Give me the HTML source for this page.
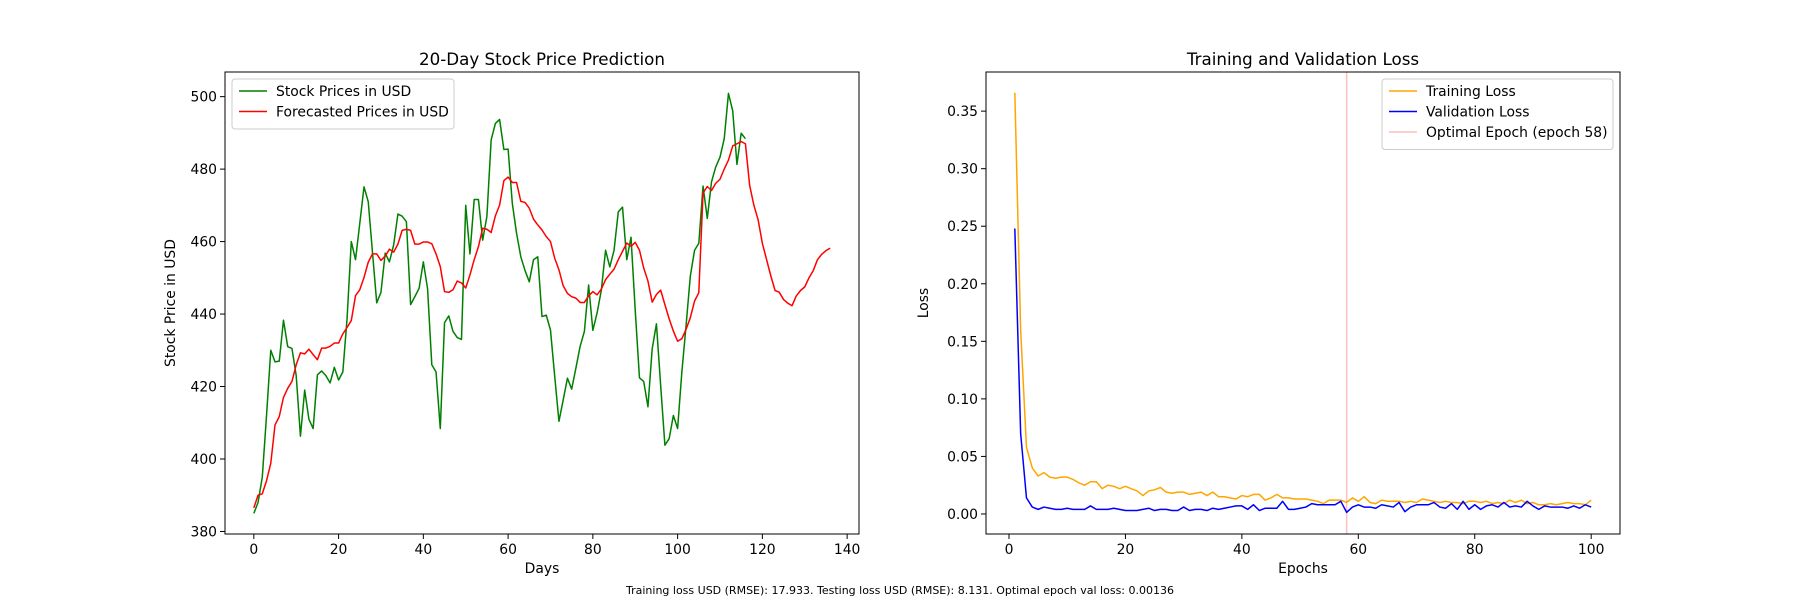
<!DOCTYPE html>
<html><head><meta charset="utf-8"><style>
body{margin:0;background:#fff;}
svg{display:block;font-family:"DejaVu Sans","Liberation Sans",sans-serif;}
</style></head><body>
<svg id="fig" width="1800" height="600" xmlns="http://www.w3.org/2000/svg"></svg>
<script>
const days=[];for(let i=0;i<=136;i++)days.push(i);
const stockPrices=[385,388,395,412,430,426.8,427,438.3,431,430.5,423,406.3,419,411,408.4,423.2,424.3,423,421,425.3,421.8,424,438.7,460,455,465,475.1,471,457,443.1,446,456.8,454.4,459.1,467.6,467,465.5,442.6,444.8,447.1,454.4,447,426,424,408.4,437.6,439.5,435.2,433.5,433,470,456.6,471.6,471.6,460.4,467,488,492.6,493.7,485.4,485.5,470.5,462.3,455.8,452,448.9,455,455.8,439.3,439.7,435.6,422.8,410.4,416.3,422.3,419.3,425.1,431.1,435.2,448,435.5,440.3,446.6,457.6,453,457.6,468.2,469.5,455,461.2,441,422.4,421.4,414.4,430.4,437.3,420.3,403.8,405.6,412,408.4,424,436.9,450.5,457.6,459.5,475.3,466.4,476.5,480.6,483.3,488.4,500.9,496.1,481.3,489.9,488.4];
const forecastPrices=[386.5,390,390.4,394,398.8,409.4,411.7,417,419.5,421.4,426,429.3,429,430.3,428.8,427.4,430.6,430.6,431.1,432,432,434.5,436.3,438.2,445.1,446.7,450.1,454.3,456.6,456.6,454.8,456,457.9,457.1,459.3,463.1,463.4,463.1,459.3,459.3,459.9,459.9,459.4,456.6,453.1,446.2,446,446.7,449.1,448.6,447.2,450.8,455,458.6,463.7,463.4,462.5,467.1,470.1,476.8,477.8,476.3,476.3,471.1,470.8,469.2,466.2,464.6,463.2,461.4,460,455.4,452.2,447.8,445.7,444.8,444.4,443.2,443.2,445,446.2,445.3,446.9,449.5,451,452.4,455,457.3,459.6,458.7,459.8,457.6,452.7,449.1,443.3,445.4,446.6,442.6,438.7,435.3,432.5,433.2,435.8,439,443.6,445.9,473.4,475.2,474.1,476.1,477.2,480,482.5,486.4,487,487.6,487,475.5,470,466,459.5,455,450.5,446.5,446,444,443,442.3,445,446.5,447.5,450,452,455,456.5,457.5,458.2];
const leftXTicks=[0,20,40,60,80,100,120,140];
const leftYTicks=[380,400,420,440,460,480,500];
const epochs=[];for(let i=1;i<=100;i++)epochs.push(i);
const trainLoss=[0.366,0.16,0.058,0.04,0.033,0.036,0.032,0.031,0.032,0.032,0.030,0.027,0.025,0.028,0.028,0.022,0.025,0.024,0.022,0.024,0.022,0.020,0.016,0.020,0.021,0.023,0.019,0.018,0.019,0.019,0.017,0.018,0.019,0.016,0.019,0.015,0.015,0.014,0.013,0.016,0.015,0.017,0.017,0.012,0.014,0.017,0.014,0.014,0.013,0.013,0.013,0.012,0.011,0.009,0.012,0.012,0.012,0.010,0.014,0.011,0.015,0.010,0.009,0.012,0.011,0.011,0.011,0.010,0.011,0.010,0.013,0.012,0.011,0.010,0.011,0.010,0.010,0.009,0.011,0.011,0.010,0.011,0.009,0.010,0.009,0.012,0.010,0.012,0.009,0.010,0.008,0.008,0.009,0.008,0.009,0.010,0.009,0.009,0.008,0.012];
const valLoss=[0.248,0.07,0.014,0.006,0.004,0.006,0.005,0.004,0.004,0.005,0.004,0.004,0.004,0.007,0.004,0.004,0.004,0.005,0.004,0.003,0.003,0.003,0.004,0.005,0.003,0.004,0.004,0.003,0.003,0.006,0.003,0.004,0.004,0.003,0.005,0.004,0.005,0.006,0.007,0.007,0.004,0.008,0.003,0.005,0.005,0.005,0.011,0.004,0.004,0.005,0.006,0.009,0.008,0.008,0.008,0.008,0.011,0.0014,0.006,0.008,0.006,0.006,0.005,0.008,0.007,0.006,0.010,0.002,0.006,0.008,0.008,0.008,0.010,0.006,0.005,0.009,0.004,0.011,0.004,0.008,0.004,0.007,0.008,0.006,0.010,0.006,0.007,0.006,0.011,0.007,0.004,0.007,0.006,0.006,0.006,0.005,0.007,0.005,0.008,0.006];
const optimalEpoch=[58];
const rightXTicks=[0,20,40,60,80,100];
const rightYTicks=[0,0.05,0.10,0.15,0.20,0.25,0.30,0.35];

const NS="http://www.w3.org/2000/svg";
const svg=document.getElementById('fig');
function mk(tag,attrs,parent,text){const e=document.createElementNS(NS,tag);for(const k in attrs)e.setAttribute(k,attrs[k]);if(text!==undefined)e.textContent=text;(parent||svg).appendChild(e);return e;}

function panel(o){
  const g=mk('g',{});
  
  
  const sx=v=>o.x0+(v-o.xmin)/(o.xmax-o.xmin)*(o.x1-o.x0);
  const sy=v=>o.y1-(v-o.ymin)/(o.ymax-o.ymin)*(o.y1-o.y0);
  const t=mk('text',{x:(o.x0+o.x1)/2,y:o.y0-7,'text-anchor':'middle','font-size':'16.7'},g,o.title);
  
  
  o.xt.forEach(v=>{const X=sx(v);mk('line',{x1:X,x2:X,y1:o.y1,y2:o.y1+5,stroke:'#000','stroke-width':1},g);
    const l=mk('text',{x:X,y:o.y1+20,'text-anchor':'middle','font-size':'13.9'},g,o.xf(v));
    
    });
  o.yt.forEach(v=>{const Y=sy(v);mk('line',{x1:o.x0-5,x2:o.x0,y1:Y,y2:Y,stroke:'#000','stroke-width':1},g);
    const l=mk('text',{x:o.x0-8,y:Y+5,'text-anchor':'end','font-size':'13.9'},g,o.yf(v));
    
    });
  const xl=mk('text',{x:(o.x0+o.x1)/2,y:o.y1+39,'text-anchor':'middle','font-size':'13.9'},g,o.xlabel);
  
  
  const yx=o.x0-o.ylOff;
  const yl=mk('text',{x:yx,y:(o.y0+o.y1)/2,'text-anchor':'middle','font-size':'13.9',transform:`rotate(-90 ${yx} ${(o.y0+o.y1)/2})`},g,o.ylabel);
  
  
  return {g,sx,sy};
}
function line(g,xs,ys,sx,sy,color,w,name){
  const d=xs.slice(0,ys.length).map((x,i)=>(i?'L':'M')+sx(x).toFixed(2)+','+sy(ys[i]).toFixed(2)).join('');
  const p=mk('path',{d,fill:'none',stroke:color,'stroke-width':w,'stroke-linejoin':'round'},g);
  
  
}
function legend(g,x,y,w,items){
  const lg=mk('g',{},g);
  
  
  mk('rect',{x,y,width:w,height:items.length*20.5+9,rx:3,fill:'#fff','fill-opacity':0.8,stroke:'#ccc'},lg);
  items.forEach((it,i)=>{const yy=y+12+i*20.5;
    const e=mk('g',{},lg);
    
    
    mk('line',{x1:x+7,x2:x+35,y1:yy,y2:yy,stroke:it[1],'stroke-width':1.5,'stroke-opacity':it[2]||1},e);
    mk('text',{x:x+44,y:yy+5,'font-size':'13.9'},e,it[0]);});
}
// Left
const L=panel({name:'price-chart',x0:225,x1:859,y0:72,y1:534,xmin:-6.8,xmax:142.8,ymin:379.3,ymax:506.8,xt:leftXTicks,yt:leftYTicks,xf:v=>String(v),yf:v=>String(v),title:'20-Day Stock Price Prediction',xlabel:'Days',ylabel:'Stock Price in USD',ylOff:50});
line(L.g,days,stockPrices,L.sx,L.sy,'green',1.5,'stock-price-line');
line(L.g,days,forecastPrices,L.sx,L.sy,'red',1.5,'forecast-price-line');
mk('rect',{x:225,y:72,width:634,height:462,fill:'none',stroke:'#000','stroke-width':1},L.g);
legend(L.g,232,79,222,[['Stock Prices in USD','green'],['Forecasted Prices in USD','red']]);
// Right
const R=panel({name:'loss-chart',x0:986,x1:1620,y0:72,y1:534,xmin:-3.95,xmax:104.95,ymin:-0.0174,ymax:0.384,xt:rightXTicks,yt:rightYTicks,xf:v=>String(v),yf:v=>v.toFixed(2),title:'Training and Validation Loss',xlabel:'Epochs',ylabel:'Loss',ylOff:58});
const ox=R.sx(optimalEpoch[0]);
const ol=mk('line',{x1:ox,x2:ox,y1:72,y2:534,stroke:'red','stroke-opacity':0.25,'stroke-width':1.5},R.g);


line(R.g,epochs,trainLoss,R.sx,R.sy,'orange',1.5,'training-loss-line');
line(R.g,epochs,valLoss,R.sx,R.sy,'blue',1.5,'validation-loss-line');
mk('rect',{x:986,y:72,width:634,height:462,fill:'none',stroke:'#000','stroke-width':1},R.g);
legend(R.g,1382,79,231,[['Training Loss','orange'],['Validation Loss','blue'],['Optimal Epoch (epoch 58)','red',0.25]]);
const ft=mk('text',{x:900,y:594,'text-anchor':'middle','font-size':'11'},svg,'Training loss USD (RMSE): 17.933. Testing loss USD (RMSE): 8.131. Optimal epoch val loss: 0.00136');


</script>
</body></html>
